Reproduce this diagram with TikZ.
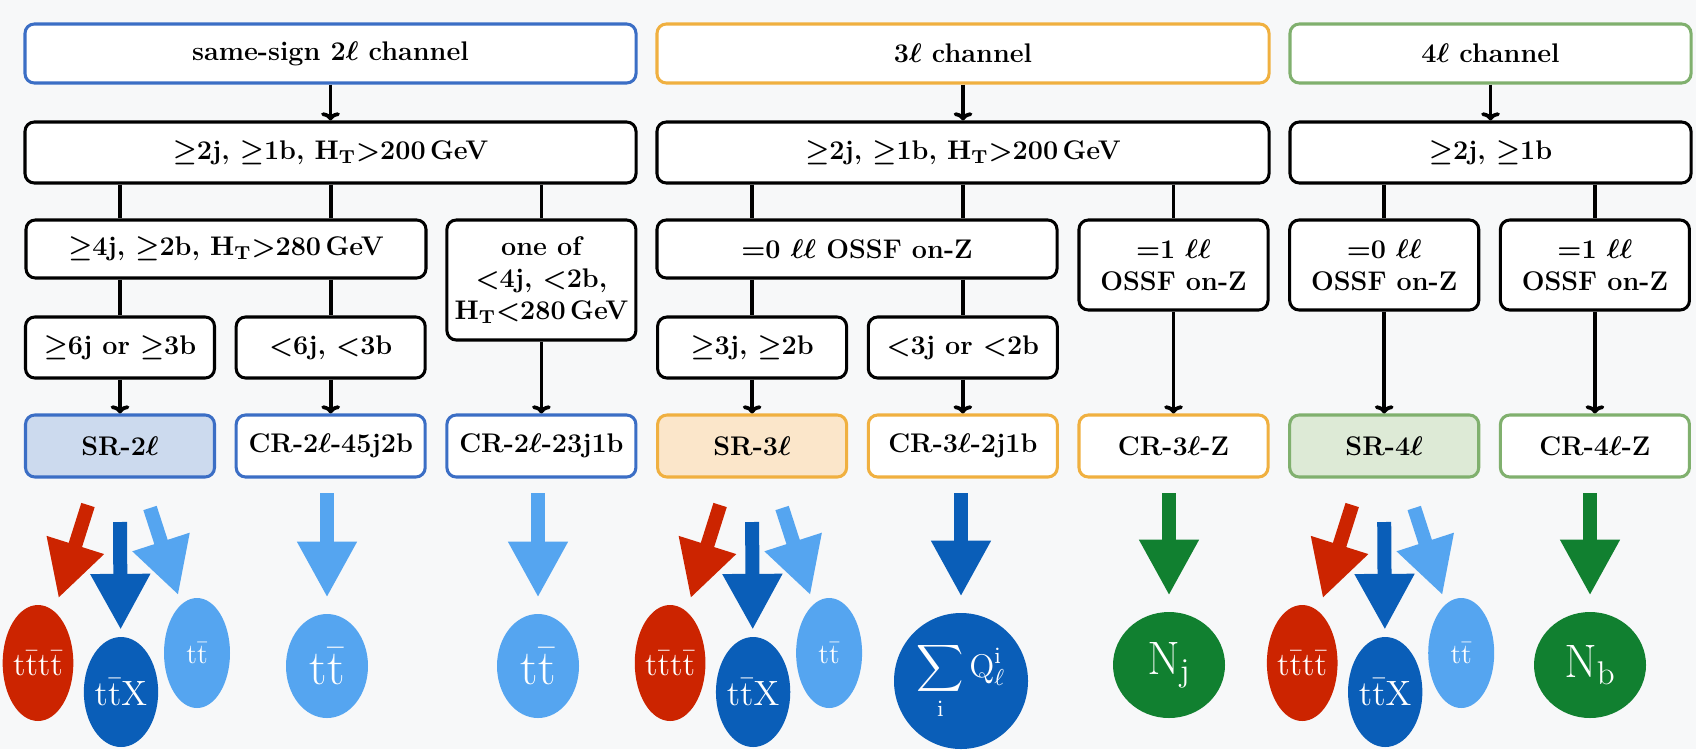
\RequirePackage{fix-cm}
\documentclass[tikz,border=0pt]{standalone}
\usepackage{amsmath, amssymb}
\usepackage{tikz}
\usetikzlibrary{positioning}
\usetikzlibrary{shapes.geometric}
\usetikzlibrary{arrows.meta}

\definecolor{chblue}{RGB}{59,110,197}
\definecolor{chorange}{RGB}{240,176,64}
\definecolor{chgreen}{RGB}{128,176,110}
\definecolor{srblue}{RGB}{204,218,238}
\definecolor{srorange}{RGB}{251,230,202}
\definecolor{srgreen}{RGB}{221,234,214}
\definecolor{sigred}{RGB}{204,36,0}
\definecolor{ttxblue}{RGB}{10,94,184}
\definecolor{ttblue}{RGB}{85,165,240}
\definecolor{njgreen}{RGB}{17,128,48}
\definecolor{bgpaper}{RGB}{247,248,249}

\tikzset{box/.style={draw, line width=1.3pt, rounded corners=4pt, fill=white, align=center,
    inner sep=0pt, font=\fontsize{11.5}{13.5}\selectfont\bfseries\boldmath}}
\tikzset{col/.style={box, minimum width=2.835cm}}
\tikzset{link/.style={line width=1.6pt}}
\tikzset{flow/.style={-{To[length=3.5pt,width=8pt]}, line width=1.6pt}}
\tikzset{bigarr/.style={line width=0.21cm, -{Triangle[length=0.84cm, width=0.84cm]}}}
\tikzset{blob/.style={ellipse, inner sep=0pt, text=white}}

\begin{document}
\begin{tikzpicture}[x=0.015cm, y=-0.015cm]
\useasboundingbox (0,0) rectangle (1696,749);
\fill[bgpaper] (0,0) rectangle (1696,749);
% channels
\node[box, draw=chblue, minimum width=9.165cm, minimum height=0.885cm] (ch2l) at (330.5,53.5) {same-sign 2$\ell$ channel};
\node[box, draw=chorange, minimum width=9.18cm, minimum height=0.885cm] (ch3l) at (963,53.5) {3$\ell$ channel};
\node[box, draw=chgreen, minimum width=6.015cm, minimum height=0.885cm] (ch4l) at (1490.5,53.5) {4$\ell$ channel};
% preselection
\node[box, minimum width=9.165cm, minimum height=0.915cm] (pre2l) at (330.5,152.5) {$\geq$2j, $\geq$1b, $\mathrm{H_T}{>}$200\,GeV};
\node[box, minimum width=9.18cm, minimum height=0.915cm] (pre3l) at (963,152.5) {$\geq$2j, $\geq$1b, $\mathrm{H_T}{>}$200\,GeV};
\node[box, minimum width=6.015cm, minimum height=0.915cm] (pre4l) at (1490.5,152.5) {$\geq$2j, $\geq$1b};
% third row
\node[box, minimum width=6.0cm, minimum height=0.87cm] (hi2l) at (226,249) {$\geq$4j, $\geq$2b, $\mathrm{H_T}{>}$280\,GeV};
\node[col, minimum height=1.8cm] (lo2l) at (541.4,280) {one of\\$<$4j, $<$2b,\\$\mathrm{H_T}{<}$280\,GeV};
\node[box, minimum width=6.0cm, minimum height=0.87cm] (off3l) at (857,249) {$=$0 $\ell\ell$ OSSF on-Z};
\node[col, minimum height=1.35cm] (on3l) at (1173.5,265) {$=$1 $\ell\ell$\\OSSF on-Z};
\node[col, minimum height=1.35cm] (off4l) at (1384.2,265) {$=$0 $\ell\ell$\\OSSF on-Z};
\node[col, minimum height=1.35cm] (on4l) at (1594.9,265) {$=$1 $\ell\ell$\\OSSF on-Z};
% fourth row
\node[col, minimum height=0.915cm] (many2l) at (120,347.5) {$\geq$6j or $\geq$3b};
\node[col, minimum height=0.915cm] (few2l) at (330.7,347.5) {$<$6j, $<$3b};
\node[col, minimum height=0.915cm] (many3l) at (752.1,347.5) {$\geq$3j, $\geq$2b};
\node[col, minimum height=0.915cm] (few3l) at (962.8,347.5) {$<$3j or $<$2b};
% regions
\node[col, minimum height=0.93cm, draw=chblue, fill=srblue] (sr2l) at (120,446) {SR-2$\ell$};
\node[col, minimum height=0.93cm, draw=chblue] (cr2la) at (330.7,446) {CR-2$\ell$-45j2b};
\node[col, minimum height=0.93cm, draw=chblue] (cr2lb) at (541.4,446) {CR-2$\ell$-23j1b};
\node[col, minimum height=0.93cm, draw=chorange, fill=srorange] (sr3l) at (752.1,446) {SR-3$\ell$};
\node[col, minimum height=0.93cm, draw=chorange] (cr3la) at (962.8,446) {CR-3$\ell$-2j1b};
\node[col, minimum height=0.93cm, draw=chorange] (cr3lb) at (1173.5,446) {CR-3$\ell$-Z};
\node[col, minimum height=0.93cm, draw=chgreen, fill=srgreen] (sr4l) at (1384.2,446) {SR-4$\ell$};
\node[col, minimum height=0.93cm, draw=chgreen] (cr4l) at (1594.9,446) {CR-4$\ell$-Z};

\draw[flow] (ch2l.south) -- (pre2l.north);
\draw[flow] (ch3l.south) -- (pre3l.north);
\draw[flow] (ch4l.south) -- (pre4l.north);
\draw[link] (pre2l.south -| sr2l) -- (hi2l.north -| sr2l);
\draw[link] (pre2l.south -| cr2la) -- (hi2l.north -| cr2la);
\draw[link] (pre2l.south -| cr2lb) -- (lo2l.north);
\draw[link] (pre3l.south -| sr3l) -- (off3l.north -| sr3l);
\draw[link] (pre3l.south -| cr3la) -- (off3l.north -| cr3la);
\draw[link] (pre3l.south -| cr3lb) -- (on3l.north);
\draw[link] (pre4l.south -| sr4l) -- (off4l.north);
\draw[link] (pre4l.south -| cr4l) -- (on4l.north);
\draw[link] (hi2l.south -| many2l) -- (many2l.north);
\draw[link] (hi2l.south -| few2l) -- (few2l.north);
\draw[link] (off3l.south -| many3l) -- (many3l.north);
\draw[link] (off3l.south -| few3l) -- (few3l.north);
\foreach \a/\b in {many2l/sr2l, few2l/cr2la, lo2l/cr2lb, many3l/sr3l, few3l/cr3la, on3l/cr3lb, off4l/sr4l, on4l/cr4l}
  \draw[flow] (\a.south) -- (\b.north);

% signal region compositions
\foreach \n/\x in {2/120, 3/752.1, 4/1384.2} {
  \node[blob, fill=sigred, minimum width=0.9cm, minimum height=1.74cm, font=\fontsize{14}{14}\selectfont] (tttt\n) at ({\x-82},663) {$\mathrm{t\bar{t}t\bar{t}}$};
  \node[blob, fill=ttxblue, minimum width=0.93cm, minimum height=1.65cm, font=\fontsize{15}{15}\selectfont] (ttx\n) at ({\x+1},692) {$\mathrm{t\bar{t}X}$};
  \node[blob, fill=ttblue, minimum width=0.99cm, minimum height=1.65cm, font=\fontsize{12}{12}\selectfont] (tt\n) at ({\x+77},653) {$\mathrm{t\bar{t}}$};
  \coordinate (rs\n) at ({\x-32},505);
  \coordinate (bs\n) at (\x,522);
  \coordinate (ls\n) at ({\x+30},508);
  \draw[bigarr, sigred, shorten >=0.2cm] (rs\n) -- (tttt\n);
  \draw[bigarr, ttxblue, shorten >=0.1cm] (bs\n) -- (ttx\n);
  \draw[bigarr, ttblue, shorten >=0.14cm] (ls\n) -- (tt\n);
}
% control region fits
\node[blob, fill=ttblue, minimum width=1.23cm, minimum height=1.56cm, font=\fontsize{21}{21}\selectfont] (ttcra) at (327,666) {$\mathrm{t\bar{t}}$};
\node[blob, fill=ttblue, minimum width=1.23cm, minimum height=1.56cm, font=\fontsize{21}{21}\selectfont] (ttcrb) at (538,666) {$\mathrm{t\bar{t}}$};
\node[blob, fill=ttxblue, minimum width=2.01cm, minimum height=2.04cm, font=\fontsize{14}{14}\selectfont] (qsum) at (961,681) {$\displaystyle\sum_{\mathrm{i}}\mathrm{Q}^{\mathrm{i}}_{\ell}$};
\node[blob, fill=njgreen, minimum width=1.68cm, minimum height=1.59cm, font=\fontsize{20}{20}\selectfont] (nj) at (1169,665) {$\mathrm{N_j}$};
\node[blob, fill=njgreen, minimum width=1.68cm, minimum height=1.59cm, font=\fontsize{20}{20}\selectfont] (nb) at (1590,665) {$\mathrm{N_b}$};
\coordinate (sa) at (327,493);
\coordinate (sb) at (538,493);
\coordinate (sc) at (961,493);
\coordinate (sd) at (1169,493);
\coordinate (se) at (1590,493);
\draw[bigarr, ttblue, shorten >=0.24cm] (sa) -- (ttcra);
\draw[bigarr, ttblue, shorten >=0.24cm] (sb) -- (ttcrb);
\draw[bigarr, ttxblue, shorten >=0.24cm] (sc) -- (qsum);
\draw[bigarr, njgreen, shorten >=0.24cm] (sd) -- (nj);
\draw[bigarr, njgreen, shorten >=0.24cm] (se) -- (nb);
\end{tikzpicture}
\end{document}
